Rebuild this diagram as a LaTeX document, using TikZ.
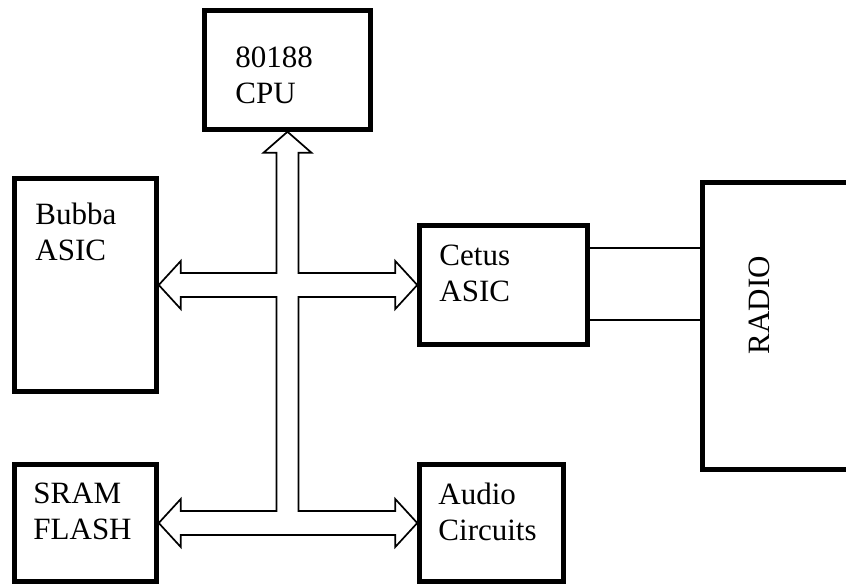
\documentclass[tikz,border=0pt]{standalone}
\usepackage{fontspec}
\setmainfont{Liberation Serif}
\usetikzlibrary{calc}

\begin{document}
\begin{tikzpicture}[
    x=1pt, y=-1pt,
    box/.style={draw, line width=4.5pt, inner sep=0pt},
    txt/.style={anchor=north west, align=left, inner sep=0pt, font=\fontsize{31}{36}\selectfont},
    bus/.style={draw, line width=1.7pt, fill=white, line join=miter},
    wire/.style={line width=1.6pt}
]
\clip (0,0) rectangle (846,586);

% blocks
\node[box, minimum width=166pt, minimum height=119pt] (cpu) at (287.5,70) {};
\node[box, minimum width=142pt, minimum height=213pt] (bubba) at (85.5,285) {};
\node[box, minimum width=168pt, minimum height=119pt] (cetus) at (503.5,285) {};
\node[box, minimum width=142pt, minimum height=117pt] (sram) at (85.5,523) {};
\node[box, minimum width=144pt, minimum height=117pt] (audio) at (491.5,523) {};
\node[box, minimum width=220pt, minimum height=287pt] (radio) at (812.5,326) {};

\node[txt] (cputxt) at ($(cpu.north west)+(33,38)$) {80188\\CPU};
\node[txt] (bubbatxt) at ($(bubba.north west)+(23,27)$) {Bubba\\ASIC};
\node[txt] (cetustxt) at ($(cetus.north west)+(22,22)$) {Cetus\\ASIC};
\node[txt] (sramtxt) at ($(sram.north west)+(21,21)$) {SRAM\\FLASH};
\node[txt] (audiotxt) at ($(audio.north west)+(21,21)$) {Audio\\Circuits};
\node[font=\fontsize{31}{36}\selectfont, rotate=90, inner sep=0pt] (radiotxt) at ($(radio.west)+(59,-21)$) {RADIO};

% bus
\coordinate (top) at (cpu.south);
\coordinate (l1) at (bubba.east);
\coordinate (r1) at (cetus.west);
\coordinate (l2) at (sram.east);
\coordinate (r2) at (audio.west);
\draw[bus] (top) -- ++(24,21) -- ++(-13,0)
    -- ($(top |- r1)+(11,-12)$) -- ($(r1)+(-22,-12)$) -- ++(0,-12) -- (r1) -- ++(-22,24) -- ++(0,-12)
    -- ($(top |- r1)+(11,12)$) -- ($(top |- r2)+(11,-12)$) -- ($(r2)+(-22,-12)$) -- ++(0,-12) -- (r2) -- ++(-22,24) -- ++(0,-12)
    -- ($(l2)+(22,12)$) -- ++(0,12) -- (l2) -- ++(22,-24) -- ++(0,12)
    -- ($(top |- l2)+(-11,-12)$) -- ($(top |- l1)+(-11,12)$) -- ($(l1)+(22,12)$) -- ++(0,12) -- (l1) -- ++(22,-24) -- ++(0,12)
    -- ($(top |- l1)+(-11,-12)$) -- ($(top)+(-11,21)$) -- ++(-13,0) -- cycle;

% radio links
\draw[wire] ($(cetus.east)+(0,-37)$) coordinate (c1) -- (c1 -| radio.west);
\draw[wire] ($(cetus.east)+(0,35)$) coordinate (c2) -- (c2 -| radio.west);

\end{tikzpicture}
\end{document}
